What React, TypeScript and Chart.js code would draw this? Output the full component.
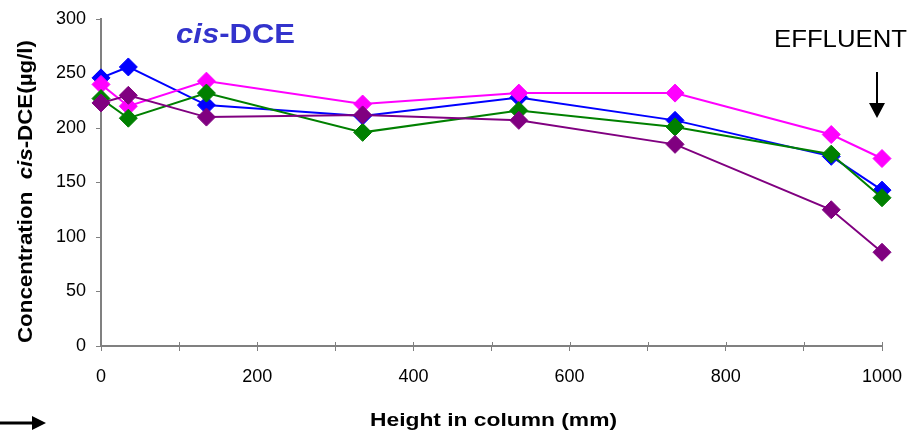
import React, { useEffect, useRef } from 'react';
import { Chart, registerables } from 'chart.js';
Chart.register(...registerables);

// ---- data ----
const heights = [0, 35, 135, 335, 535, 735, 935, 1000];
const seriesBlue = [246, 256, 221, 211, 228, 207, 174, 143];
const seriesMagenta = [240, 220, 243, 222, 232, 232, 194, 172];
const seriesGreen = [227, 209, 232, 196, 216, 201, 176, 136];
const seriesPurple = [223, 230, 210, 212, 207, 185, 125, 86];
const seriesColors = ['#0000FF', '#FF00FF', '#008000', '#800080'];
const seriesValues = [seriesBlue, seriesMagenta, seriesGreen, seriesPurple];
const xMin = 0, xMax = 1000, xStep = 100, xLabelEvery = 200;
const yMin = 0, yMax = 300, yStep = 50;
const xTitle = 'Height in column (mm)';
const yTitleParts = ['Concentration  ', 'cis', '-DCE(µg/l)'];
const annotationParts = ['cis', '-DCE'];
const effluentText = 'EFFLUENT';

const FAM = "'Liberation Sans', Arial, sans-serif";

type Seg = { t: string; f: string };

function drawSegs(ctx: CanvasRenderingContext2D, segs: Seg[], x: number, y: number, width: number, color: string) {
  ctx.save();
  let total = 0;
  const ws = segs.map((s) => {
    ctx.font = s.f;
    const w = ctx.measureText(s.t).width;
    total += w;
    return w;
  });
  const sc = width / total;
  ctx.translate(x, y);
  ctx.scale(sc, 1);
  ctx.fillStyle = color;
  ctx.textBaseline = 'alphabetic';
  ctx.textAlign = 'left';
  let cx = 0;
  segs.forEach((s, i) => {
    ctx.font = s.f;
    ctx.fillText(s.t, cx, 0);
    cx += ws[i];
  });
  ctx.restore();
}

const decorPlugin = {
  id: 'decor',
  afterDraw(chart: any) {
    const ctx: CanvasRenderingContext2D = chart.ctx;
    const xs = chart.scales.x;
    const area = chart.chartArea;
    // inner halves of x ticks (ticks cross the axis)
    ctx.save();
    ctx.strokeStyle = '#808080';
    ctx.lineWidth = 1;
    xs.ticks.forEach((t: any) => {
      const px = Math.round(xs.getPixelForValue(t.value)) + 0.5;
      ctx.beginPath();
      ctx.moveTo(px, area.bottom - 4);
      ctx.lineTo(px, area.bottom);
      ctx.stroke();
    });
    ctx.restore();

    // y title (rotated)
    ctx.save();
    ctx.translate(32, 343);
    ctx.rotate(-Math.PI / 2);
    drawSegs(ctx, [
      { t: yTitleParts[0], f: `bold 21px ${FAM}` },
      { t: yTitleParts[1], f: `italic bold 21px ${FAM}` },
      { t: yTitleParts[2], f: `bold 21px ${FAM}` },
    ], 0, 0, 303, '#000000');
    ctx.restore();

    // x title
    drawSegs(ctx, [{ t: xTitle, f: `bold 19px ${FAM}` }], 370, 426, 247, '#000000');

    // cis-DCE annotation
    drawSegs(ctx, [
      { t: annotationParts[0], f: `italic bold 28px ${FAM}` },
      { t: annotationParts[1], f: `bold 28px ${FAM}` },
    ], 176, 43, 119, '#3333CC');

    // EFFLUENT
    drawSegs(ctx, [{ t: effluentText, f: `24px ${FAM}` }], 774, 47, 133, '#000000');

    // down arrow
    ctx.save();
    ctx.strokeStyle = '#000';
    ctx.fillStyle = '#000';
    ctx.lineWidth = 2;
    ctx.beginPath();
    ctx.moveTo(877, 72);
    ctx.lineTo(877, 105);
    ctx.stroke();
    ctx.beginPath();
    ctx.moveTo(869, 103);
    ctx.lineTo(885, 103);
    ctx.lineTo(877, 118);
    ctx.closePath();
    ctx.fill();
    // left arrow
    ctx.lineWidth = 3;
    ctx.beginPath();
    ctx.moveTo(0, 423);
    ctx.lineTo(34, 423);
    ctx.stroke();
    ctx.beginPath();
    ctx.moveTo(32, 416);
    ctx.lineTo(32, 430);
    ctx.lineTo(46, 423);
    ctx.closePath();
    ctx.fill();
    ctx.restore();
  },
};

export default function App() {
  const ref = useRef<HTMLCanvasElement | null>(null);
  useEffect(() => {
    document.body.style.margin = '0';
    if (!ref.current) return;
    const datasets = seriesValues.map((vals, i) => ({
      data: heights.map((h, j) => ({ x: h, y: vals[j] })),
      borderColor: seriesColors[i],
      backgroundColor: seriesColors[i],
      pointBackgroundColor: seriesColors[i],
      pointBorderColor: seriesColors[i],
      borderWidth: 2,
      pointStyle: 'rectRot' as const,
      pointRadius: 9,
      pointBorderWidth: 1,
      tension: 0,
      clip: false as const,
      order: 4 - i,
    }));
    const chart = new Chart(ref.current, {
      type: 'line',
      data: { datasets },
      plugins: [decorPlugin],
      options: {
        animation: false,
        responsive: false,
        layout: { padding: { top: 19, right: 32, left: 0, bottom: 0 } },
        plugins: { legend: { display: false }, tooltip: { enabled: false }, title: { display: false } },
        scales: {
          x: {
            type: 'linear',
            min: xMin,
            max: xMax,
            afterFit: (s: any) => { s.height = 86; s.paddingRight = 0; s.paddingLeft = 0; },
            border: { color: '#808080', width: 2 },
            grid: { drawOnChartArea: false, color: '#808080', tickLength: 5, lineWidth: 1 },
            ticks: {
              stepSize: xStep,
              autoSkip: false,
              maxRotation: 0,
              padding: 15,
              color: '#000000',
              font: { family: FAM, size: 18 },
              callback: (v: any) => (Number(v) % xLabelEvery === 0 ? String(v) : ''),
            },
          },
          y: {
            type: 'linear',
            min: yMin,
            max: yMax,
            afterFit: (s: any) => { s.width = 101; s.paddingTop = 0; s.paddingBottom = 0; },
            border: { color: '#808080', width: 2 },
            grid: { drawOnChartArea: false, color: '#808080', tickLength: 5, lineWidth: 1 },
            ticks: {
              stepSize: yStep,
              padding: 10,
              color: '#000000',
              font: { family: FAM, size: 18 },
            },
          },
        },
      },
    });
    return () => chart.destroy();
  }, []);
  return (
    <div style={{ position: 'absolute', left: 0, top: 0, width: 914, height: 432 }}>
      <canvas ref={ref} width={914} height={432} />
    </div>
  );
}
